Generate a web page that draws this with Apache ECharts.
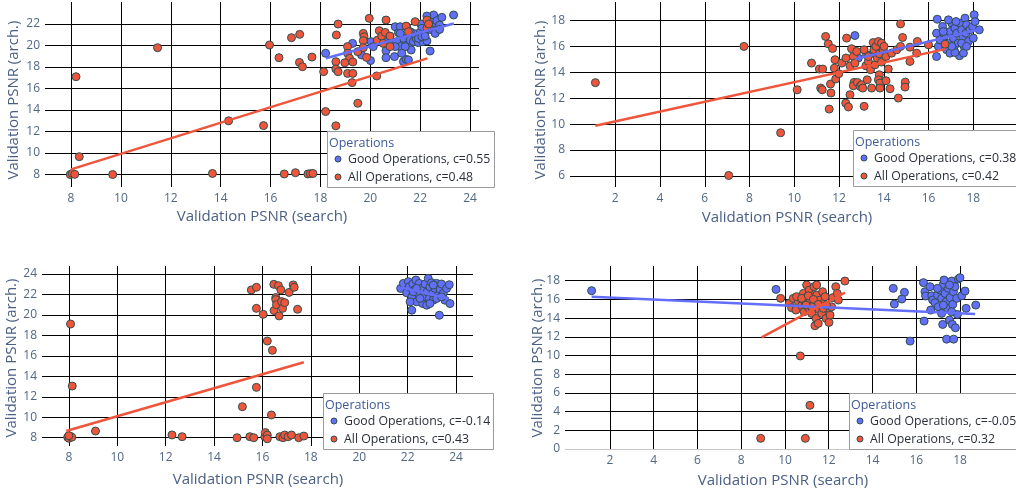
<!DOCTYPE html>
<html>
<head>
<meta charset="utf-8">
<script src="https://cdn.jsdelivr.net/npm/echarts@6/dist/echarts.min.js"></script>
<style>
  html, body { margin: 0; padding: 0; background: #fff; }
  #main { width: 1016px; height: 495px; }
</style>
</head>
<body>
<div id="main"></div>
<script>
// ---- data: [search PSNR, arch PSNR] ----
var p1Good = [[18.21,19.28],[19.29,20.2],[19.65,19.12],[20.01,18.6],[20.03,20.36],[20.39,20.51],[20.63,19.52],[20.63,18.87],[20.97,18.97],[21.0,21.75],[21.13,21.2],[21.2,21.75],[21.26,20.27],[21.33,20.67],[21.46,21.75],[21.53,19.9],[21.6,20.5],[21.33,18.5],[21.44,18.72],[21.64,19.59],[21.73,20.36],[21.84,20.67],[21.93,20.27],[22.03,22.0],[22.1,20.36],[22.27,20.42],[22.4,19.49],[22.34,22.06],[22.47,22.53],[22.54,22.84],[22.6,21.75],[22.67,22.31],[22.78,21.9],[22.87,22.62],[23.34,22.84],[22.5,21.44],[22.67,21.38],[22.2,21.29],[22.07,21.6],[21.93,21.13],[21.73,21.13],[21.6,21.29],[21.2,21.13],[20.79,20.82],[20.6,20.58],[20.86,20.36],[21.06,20.36],[21.2,19.9],[21.4,19.9],[21.93,20.67],[22.07,20.82],[22.2,20.88],[22.38,21.5],[22.6,21.13],[22.78,21.5],[21.0,19.9],[21.26,19.28],[21.53,18.66],[20.12,19.9],[22.27,22.74]];
var p1All = [[7.97,8.0],[8.05,8.1],[8.15,8.02],[8.2,17.1],[8.33,9.66],[9.67,8.0],[11.47,19.8],[13.67,8.1],[14.32,13.0],[15.72,12.55],[15.96,20.05],[16.34,18.87],[16.55,8.05],[16.84,20.73],[17.0,8.17],[17.17,21.04],[17.16,18.43],[17.28,18.03],[17.66,18.93],[17.5,8.05],[17.6,8.08],[17.7,8.1],[18.13,17.57],[18.21,13.86],[18.62,18.5],[18.62,17.82],[18.71,22.0],[18.64,20.98],[18.71,17.57],[19.09,17.41],[19.09,19.9],[19.09,19.28],[19.17,18.81],[18.98,18.4],[19.3,18.47],[19.3,17.41],[19.27,16.55],[19.5,14.63],[19.5,19.43],[19.72,21.13],[19.75,20.82],[19.72,20.45],[19.72,19.8],[19.85,18.9],[19.96,22.53],[20.26,17.17],[20.28,20.5],[20.36,21.38],[20.46,20.88],[20.52,20.2],[20.6,21.22],[20.63,22.37],[20.79,20.88],[20.79,19.9],[21.44,21.81],[21.53,21.29],[21.8,22.22],[22.27,22.37],[22.27,21.6],[22.34,22.0],[18.62,12.53]];
var p1GoodFit = [[18.22,18.82],[23.35,22.05]];
var p1AllFit = [[8.0,8.48],[22.29,18.81]];

var p2Good = [[12.71,16.84],[12.86,15.1],[13.23,15.35],[13.53,15.48],[13.83,15.74],[16.39,18.1],[16.36,17.02],[16.44,16.0],[16.36,15.22],[16.63,17.54],[16.69,16.77],[16.81,15.74],[16.89,16.25],[16.96,17.15],[17.04,17.79],[17.11,16.64],[17.14,15.74],[17.18,17.41],[17.26,17.02],[17.33,16.25],[17.38,15.28],[17.41,17.79],[17.48,17.28],[17.53,16.64],[17.59,16.0],[17.63,18.18],[17.67,17.02],[17.7,17.67],[17.78,16.38],[17.85,17.28],[17.97,17.54],[18.0,16.64],[18.04,18.44],[18.08,17.92],[18.27,17.28],[16.96,15.48],[17.18,15.53],[17.04,16.0],[17.56,15.48],[16.51,16.51],[16.89,18.05],[17.23,17.92],[16.66,17.15],[17.48,16.25],[17.7,16.0]];
var p2All = [[1.11,13.2],[7.75,16.0],[9.39,9.33],[7.07,6.03],[10.13,12.65],[10.77,14.71],[11.12,14.25],[11.27,14.25],[11.18,12.78],[11.25,12.65],[11.4,16.77],[11.52,16.2],[11.71,15.84],[11.56,11.16],[11.62,13.09],[11.64,12.4],[11.82,14.97],[11.79,14.32],[11.85,13.48],[11.99,13.89],[12.12,14.71],[12.31,15.1],[12.34,16.64],[12.49,12.27],[12.3,11.62],[12.42,11.32],[12.49,14.5],[12.56,15.82],[12.64,15.22],[12.71,14.71],[12.79,15.61],[12.67,13.22],[12.64,12.96],[12.82,13.22],[12.94,12.91],[13.01,13.04],[13.06,12.78],[13.12,15.74],[13.12,11.37],[13.2,14.5],[13.31,14.84],[13.31,15.22],[13.26,13.42],[13.46,12.78],[13.41,14.2],[13.53,16.3],[13.56,15.74],[13.61,14.58],[13.65,16.0],[13.71,15.1],[13.76,16.38],[13.8,15.43],[13.8,13.81],[13.76,13.42],[13.83,13.17],[13.83,12.78],[13.9,16.25],[13.98,15.69],[13.9,14.79],[14.01,16.0],[14.1,13.35],[14.1,15.22],[14.2,14.25],[14.28,12.73],[14.35,15.48],[14.58,15.74],[14.65,12.01],[14.75,17.74],[14.84,16.69],[14.75,16.0],[14.96,13.24],[14.95,12.86],[15.17,14.84],[15.17,15.94],[15.5,16.38],[15.47,15.48],[16.0,16.12],[16.74,16.17]];
var p2GoodFit = [[12.71,15.02],[18.3,17.33]];
var p2AllFit = [[1.11,9.87],[16.74,15.79]];

var p3Good = [[21.71,22.59],[21.82,23.08],[21.96,22.16],[22.03,23.25],[22.07,22.75],[22.17,21.77],[22.17,20.46],[22.21,23.02],[22.3,22.49],[22.34,23.41],[22.37,21.28],[22.44,22.1],[22.48,23.08],[22.58,22.59],[22.62,21.11],[22.65,21.77],[22.72,23.02],[22.79,20.95],[22.81,22.26],[22.85,23.57],[22.9,21.61],[22.92,22.75],[22.99,23.15],[23.03,22.1],[23.06,21.44],[23.13,22.59],[23.2,23.08],[23.27,21.93],[23.31,19.97],[23.34,22.49],[23.4,23.02],[23.47,22.1],[23.54,21.44],[23.61,22.59],[23.72,22.95],[23.75,21.11],[22.1,21.28],[22.23,22.26],[22.51,21.61],[22.92,21.11],[23.2,21.61],[23.4,21.77],[22.37,22.59],[23.06,22.92]];
var p3All = [[7.95,8.05],[8.0,7.95],[8.05,8.15],[8.12,8.05],[8.0,8.2],[8.07,19.11],[8.14,13.05],[9.1,8.65],[12.26,8.27],[12.68,8.1],[14.95,8.0],[15.48,8.1],[15.64,8.0],[15.17,11.03],[15.54,22.44],[15.75,22.7],[15.75,20.64],[15.75,12.92],[16.03,20.06],[16.1,8.1],[16.12,8.5],[16.2,8.26],[16.2,7.9],[16.2,17.45],[16.41,16.54],[16.37,10.22],[16.47,22.99],[16.48,20.42],[16.55,21.7],[16.55,21.5],[16.58,21.0],[16.66,22.86],[16.69,19.9],[16.76,22.44],[16.79,21.3],[16.83,20.64],[16.92,21.2],[16.72,8.1],[16.85,8.0],[16.92,8.26],[17.06,8.1],[17.2,8.26],[17.1,22.2],[17.27,22.93],[17.31,22.7],[17.45,20.55],[17.5,8.0],[17.71,8.16]];
var p3GoodFit = [[21.7,22.7],[23.7,21.6]];
var p3AllFit = [[7.89,8.65],[17.71,15.37]];

var p4Good = [[1.16,16.93],[9.59,17.07],[14.95,17.18],[15.0,15.5],[15.46,16.75],[15.34,16.04],[15.72,11.54],[16.33,17.79],[16.36,13.68],[16.4,16.82],[16.43,16.36],[16.63,17.36],[16.71,16.39],[16.66,14.86],[16.75,15.93],[16.86,15.64],[16.97,16.46],[17.01,15.21],[17.09,17.0],[17.16,16.11],[17.24,17.61],[17.27,18.07],[17.32,16.64],[17.36,15.75],[17.21,13.32],[17.42,15.04],[17.47,17.18],[17.52,13.79],[17.55,16.18],[17.62,17.96],[17.67,15.46],[17.7,16.82],[17.77,17.36],[17.85,16.11],[17.88,14.39],[17.93,18.18],[18.0,18.32],[17.62,14.68],[17.65,13.32],[17.79,12.96],[17.39,11.75],[17.71,11.75],[18.08,16.39],[18.23,16.89],[18.28,15.04],[18.72,15.39],[17.16,14.5],[16.97,17.18],[17.24,15.39],[17.52,17.54]];
var p4All = [[8.89,1.14],[10.93,1.14],[10.7,9.95],[11.14,4.67],[9.8,16.11],[10.2,15.57],[10.3,15.11],[10.38,16.11],[10.5,14.86],[10.61,15.75],[10.69,16.18],[10.76,15.32],[10.84,16.64],[10.87,14.68],[10.91,15.75],[10.99,17.54],[11.02,16.29],[11.07,15.11],[11.11,17.0],[11.14,15.75],[11.22,14.5],[11.27,16.39],[11.33,17.36],[11.37,15.39],[11.42,13.96],[11.37,13.18],[11.45,16.46],[11.52,13.43],[11.57,14.86],[11.6,15.93],[11.68,14.5],[11.72,16.82],[11.75,15.57],[11.83,16.29],[11.88,13.96],[11.94,15.04],[12.01,13.54],[12.06,14.32],[12.13,15.21],[12.18,16.18],[12.32,17.36],[12.39,16.64],[12.44,15.93],[12.74,17.96],[10.53,16.29],[10.76,16.11],[11.07,16.39],[11.3,16.0],[11.52,15.46],[11.75,15.04],[11.22,15.21],[10.96,15.39],[11.45,17.54],[11.9,15.39]];
var p4GoodFit = [[1.16,16.29],[18.69,14.44]];
var p4AllFit = [[8.93,11.94],[12.74,16.72]];

var goodNames = ['Good Operations, c=0.55', 'Good Operations, c=0.38', 'Good Operations, c=-0.14', 'Good Operations, c=-0.05'];
var allNames = ['All Operations, c=0.48', 'All Operations, c=0.42', 'All Operations, c=0.43', 'All Operations, c=0.32'];

var ticks1X = [8, 10, 12, 14, 16, 18, 20, 22, 24];
var ticks1Y = [8, 10, 12, 14, 16, 18, 20, 22];
var ticks2X = [2, 4, 6, 8, 10, 12, 14, 16, 18];
var ticks2Y = [6, 8, 10, 12, 14, 16, 18];
var ticks3X = [8, 10, 12, 14, 16, 18, 20, 22, 24];
var ticks3Y = [8, 10, 12, 14, 16, 18, 20, 22, 24];
var ticks4X = [2, 4, 6, 8, 10, 12, 14, 16, 18];
var ticks4Y = [0, 2, 4, 6, 8, 10, 12, 14, 16, 18];

var xTitle = 'Validation PSNR (search)';
var yTitle = 'Validation PSNR (arch.)';

// ---- layout ----
var FONT = '"Open Sans", sans-serif';
var BLUE = '#636efa';
var RED = '#ef553b';
var OUTLINE = '#2f4f4f';
var TICK_COLOR = '#506784';
var TITLE_COLOR = '#4a5f84';

var panels = [
    { grid: { left: 45, top: 2, width: 434, height: 185 }, x: [6.956, 24.36], y: [6.84, 24.05], tx: ticks1X, ty: ticks1Y,
      good: p1Good, all: p1All, goodFit: p1GoodFit, allFit: p1AllFit },
    { grid: { left: 570, top: 2, width: 446, height: 185 }, x: [-0.025, 19.91], y: [5.14, 19.43], tx: ticks2X, ty: ticks2Y,
      good: p2Good, all: p2All, goodFit: p2GoodFit, allFit: p2AllFit },
    { grid: { left: 42, top: 266, width: 431, height: 180 }, x: [6.89, 24.70], y: [7.19, 24.78], tx: ticks3X, ty: ticks3Y,
      good: p3Good, all: p3All, goodFit: p3GoodFit, allFit: p3AllFit },
    { grid: { left: 565, top: 266, width: 451, height: 183 }, x: [-0.057, 20.56], y: [0, 19.57], tx: ticks4X, ty: ticks4Y,
      good: p4Good, all: p4All, goodFit: p4GoodFit, allFit: p4AllFit }
];

var grids = [], xAxes = [], yAxes = [], series = [];
panels.forEach(function (p, i) {
    grids.push(Object.assign({ containLabel: false }, p.grid));
    xAxes.push({
        type: 'value', gridIndex: i, min: p.x[0], max: p.x[1],
        axisLine: { show: false },
        axisTick: { show: false, customValues: p.tx },
        axisLabel: { customValues: p.tx, color: TICK_COLOR, fontSize: 12, fontFamily: FONT, margin: 6 },
        splitLine: { show: true, lineStyle: { color: '#000', width: 1 } }
    });
    var yColors = p.ty.map(function (v) { return v === 0 ? '#c8c8c8' : '#000'; });
    yAxes.push({
        type: 'value', gridIndex: i, min: p.y[0], max: p.y[1],
        axisLine: { show: false },
        axisTick: { show: false, customValues: p.ty },
        axisLabel: { customValues: p.ty, color: TICK_COLOR, fontSize: 12, fontFamily: FONT, margin: 5 },
        splitLine: { show: true, lineStyle: { color: yColors, width: 1 } }
    });
    series.push({
        name: goodNames[i], type: 'scatter', xAxisIndex: i, yAxisIndex: i, data: p.good,
        symbolSize: 8, itemStyle: { color: BLUE, borderColor: OUTLINE, borderWidth: 1, opacity: 1 }
    });
    series.push({
        type: 'line', xAxisIndex: i, yAxisIndex: i, data: p.goodFit, showSymbol: false, symbol: 'none',
        lineStyle: { color: BLUE, width: 2.5 }
    });
    series.push({
        name: allNames[i], type: 'scatter', xAxisIndex: i, yAxisIndex: i, data: p.all,
        symbolSize: 8, itemStyle: { color: RED, borderColor: OUTLINE, borderWidth: 1, opacity: 1 }
    });
    series.push({
        type: 'line', xAxisIndex: i, yAxisIndex: i, data: p.allFit, showSymbol: false, symbol: 'none',
        lineStyle: { color: RED, width: 2.5 }
    });
});

// axis titles
var titlePos = [
    { xt: [262, 217], yt: [14, 100] },
    { xt: [787, 218], yt: [541, 100] },
    { xt: [258, 480], yt: [12, 358] },
    { xt: [783, 481], yt: [538, 358] }
];
var graphics = [];
titlePos.forEach(function (t) {
    graphics.push({
        type: 'text', x: t.xt[0], y: t.xt[1], z: 50,
        style: { text: xTitle, font: '15px ' + FONT, fill: TITLE_COLOR, align: 'center', verticalAlign: 'middle' }
    });
    graphics.push({
        type: 'text', x: t.yt[0], y: t.yt[1], z: 50, rotation: Math.PI / 2,
        style: { text: yTitle, font: '15px ' + FONT, fill: TITLE_COLOR, align: 'center', verticalAlign: 'middle' }
    });
});

// legend boxes (plotly style, with title)
var legendBoxes = [
    { x: 327, y: 131, w: 167 },
    { x: 853, y: 130, w: 200 },
    { x: 323, y: 393, w: 170 },
    { x: 849, y: 393, w: 200 }
];
var LEG_FONT = '12.3px ' + FONT;
legendBoxes.forEach(function (b, i) {
    graphics.push({
        type: 'group', x: b.x, y: b.y, z: 100,
        children: [
            { type: 'rect', z: 100, shape: { x: 0.5, y: 0.5, width: b.w, height: 56 },
              style: { fill: '#fff', stroke: '#9a9a9a', lineWidth: 1 } },
            { type: 'text', z: 101, x: 2, y: 12,
              style: { text: 'Operations', font: '12.5px ' + FONT, fill: '#3d5a96', verticalAlign: 'middle' } },
            { type: 'circle', z: 101, shape: { cx: 11, cy: 28, r: 3 },
              style: { fill: BLUE, stroke: OUTLINE, lineWidth: 1 } },
            { type: 'text', z: 101, x: 21, y: 28,
              style: { text: goodNames[i], font: LEG_FONT, fill: '#2a2f3a', verticalAlign: 'middle' } },
            { type: 'circle', z: 101, shape: { cx: 11, cy: 46, r: 3 },
              style: { fill: RED, stroke: OUTLINE, lineWidth: 1 } },
            { type: 'text', z: 101, x: 21, y: 46,
              style: { text: allNames[i], font: LEG_FONT, fill: '#2a2f3a', verticalAlign: 'middle' } }
        ]
    });
});

var chart = echarts.init(document.getElementById('main'));
chart.setOption({
    animation: false,
    backgroundColor: '#fff',
    grid: grids,
    xAxis: xAxes,
    yAxis: yAxes,
    series: series,
    graphic: graphics
});
</script>
</body>
</html>
